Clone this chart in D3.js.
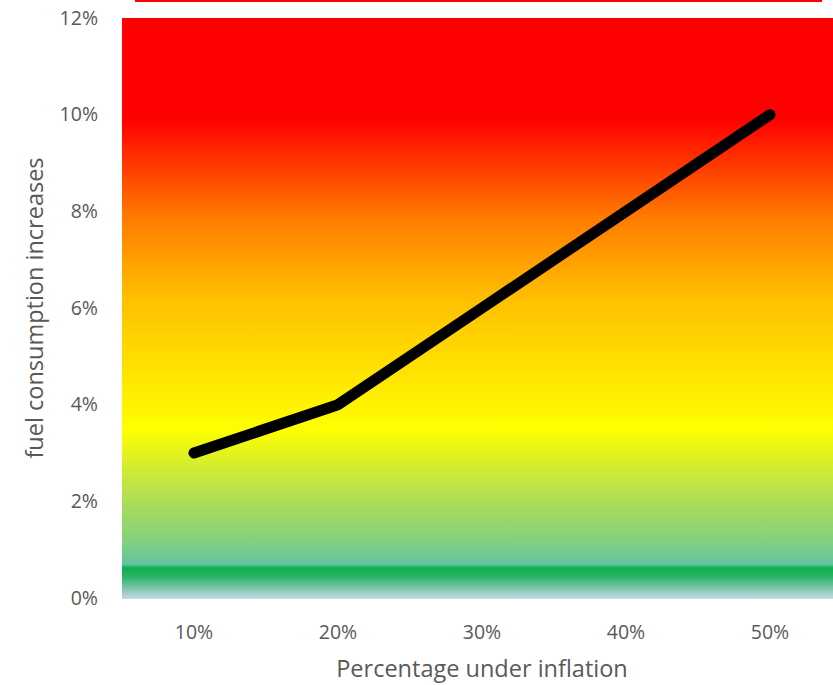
<!DOCTYPE html>
<html>
<head>
<meta charset="utf-8">
<script src="https://cdn.jsdelivr.net/npm/d3@7"></script>
<style>
  body { margin: 0; background: #fff; }
  text { font-family: "Open Sans", sans-serif; fill: #595959; }
</style>
</head>
<body>
<svg></svg>
<script>
//data
const categories = ["10%", "20%", "30%", "40%", "50%"];
const fuelIncrease = [3, 4, 6, 8, 10];
const yTicks = [0, 2, 4, 6, 8, 10, 12];

//constants
const W = 833, H = 685;
const plot = {left: 122, right: 842, top: 18, bottom: 598};

//background colour bands, keyed by y value (%)
const bgStops = [
    [12, "#ff0000"], [9.9, "#ff0000"], [7.9, "#ff7a00"], [6.2, "#ffc000"],
    [3.5, "#ffff00"], [2.2, "#b6e04e"], [1.2, "#84d07e"], [0.72, "#62c4a0"],
    [0.64, "#0db04c"], [0.45, "#2cb468"], [0, "#cad8ea"]
];

function main() {
    let svg = d3.select("svg")
        .attr("width", W)
        .attr("height", H);

    //scales
    let xScale = d3.scaleBand()
        .domain(categories)
        .range([plot.left, plot.right]);

    let yScale = d3.scaleLinear()
        .domain([0, 12])
        .range([plot.bottom, plot.top]);

    //gradient
    let grad = svg.append("defs").append("linearGradient")
        .attr("id", "bg")
        .attr("x1", 0).attr("x2", 0)
        .attr("y1", 0).attr("y2", 1);

    grad.selectAll("stop")
        .data(bgStops)
        .join("stop")
        .attr("offset", d => (yScale(d[0]) - plot.top) / (plot.bottom - plot.top))
        .attr("stop-color", d => d[1]);

    svg.append("rect")
        .attr("x", plot.left)
        .attr("y", yScale(12))
        .attr("width", plot.right - plot.left)
        .attr("height", yScale(0) - yScale(12) + 1)
        .attr("fill", "url(#bg)");

    //red line above the plot
    svg.append("rect")
        .attr("x", 135)
        .attr("y", 0)
        .attr("width", 687)
        .attr("height", 2)
        .attr("fill", "#ff0000");

    //y axis labels
    svg.append("g")
        .selectAll("text")
        .data(yTicks)
        .join("text")
        .attr("x", 98)
        .attr("y", d => yScale(d))
        .attr("dy", "0.35em")
        .style("text-anchor", "end")
        .style("font-size", "19.5px")
        .text(d => d + "%");

    //x axis labels
    svg.append("g")
        .selectAll("text")
        .data(categories)
        .join("text")
        .attr("x", d => xScale(d) + xScale.bandwidth() / 2)
        .attr("y", 639)
        .style("text-anchor", "middle")
        .style("font-size", "19.5px")
        .text(d => d);

    //axes titles
    svg.append("text")
        .attr("x", 482)
        .attr("y", 677)
        .style("text-anchor", "middle")
        .style("font-size", "23.5px")
        .text("Percentage under inflation");

    svg.append("text")
        .attr("transform", "translate(43,308) rotate(-90)")
        .style("text-anchor", "middle")
        .style("font-size", "23.5px")
        .text("fuel consumption increases");

    //line
    svg.append("path")
        .datum(fuelIncrease)
        .attr("fill", "none")
        .attr("stroke", "#000")
        .attr("stroke-width", 11)
        .attr("stroke-linecap", "round")
        .attr("stroke-linejoin", "round")
        .attr("d", d3.line()
            .x((d, i) => xScale(categories[i]) + xScale.bandwidth() / 2)
            .y(d => yScale(d)));
}

main();
</script>
</body>
</html>
